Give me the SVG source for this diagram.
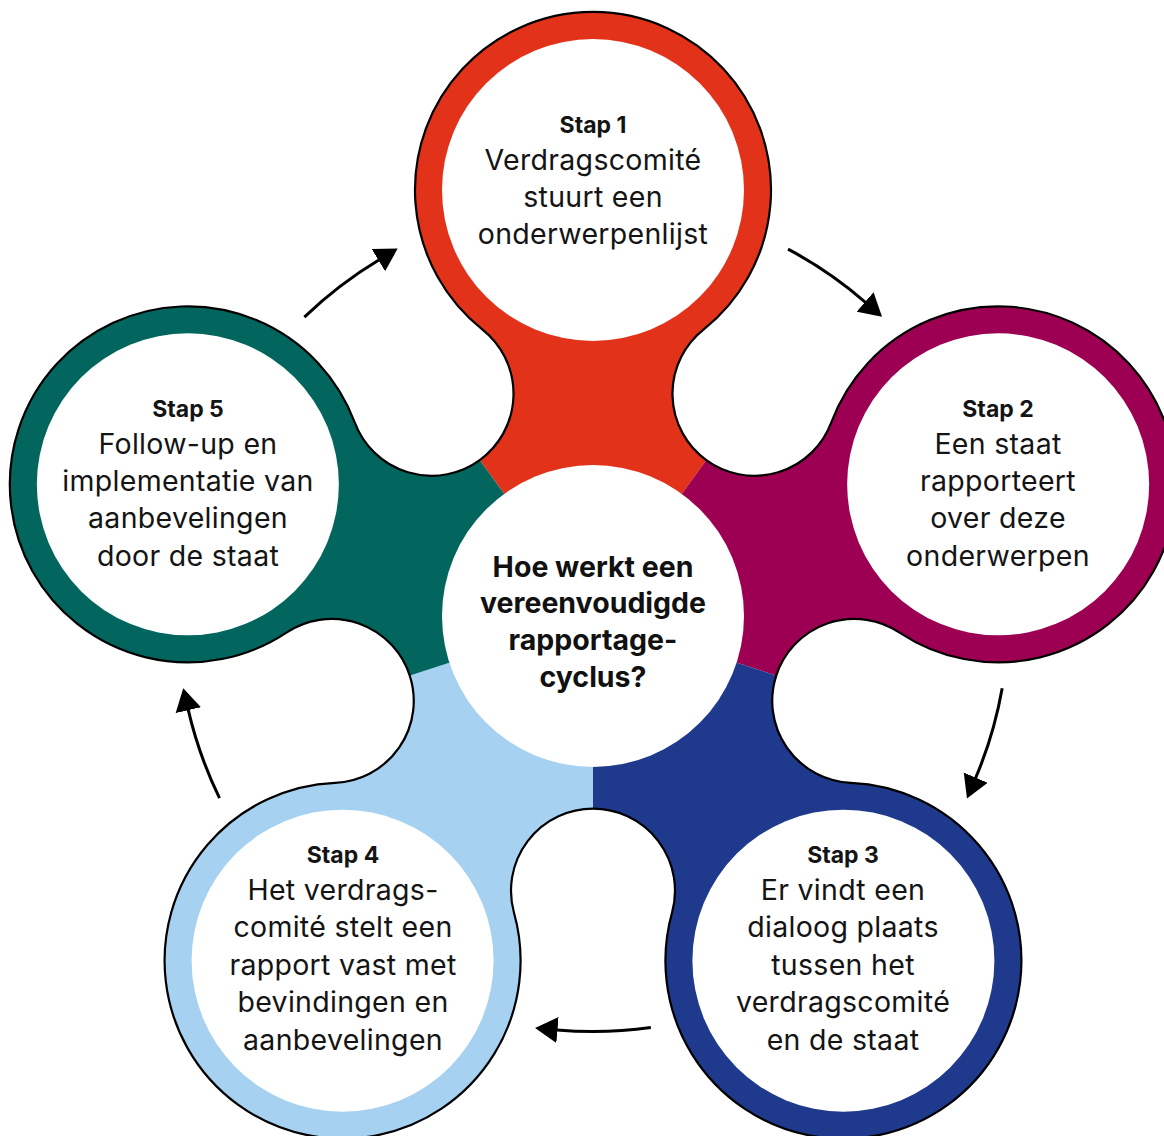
<svg xmlns="http://www.w3.org/2000/svg" width="1164" height="1136" viewBox="0 0 1164 1136">
  <defs>
    <style>
      .ttl { font-family: Inter, "Liberation Sans", sans-serif; font-weight: 700; font-size: 23px; fill: #141414; text-anchor: middle; }
      .txt { font-family: Inter, "Liberation Sans", sans-serif; font-weight: 400; font-size: 28.5px; fill: #141414; text-anchor: middle; letter-spacing: 0.3px; }
      .ctr { font-family: Inter, "Liberation Sans", sans-serif; font-weight: 700; font-size: 28.5px; fill: #111; text-anchor: middle; }
      .inner { fill: #ffffff; }
      .conn { fill: none; stroke: #000; stroke-width: 3; marker-end: url(#arrow); }
    </style>
    <path id="flowerPath" d="M 482.53 329.54 A 178 178 0 1 1 703.47 329.54 A 82 82 0 1 0 831.30 422.41 A 178 178 0 1 1 899.57 632.55 A 82 82 0 1 0 850.75 782.81 A 178 178 0 1 1 672.00 912.69 A 82 82 0 1 0 514.00 912.69 A 178 178 0 1 1 335.25 782.81 A 82 82 0 1 0 286.43 632.55 A 178 178 0 1 1 354.70 422.41 A 82 82 0 1 0 482.53 329.54 Z"/>
    <clipPath id="flowerClip">
      <use href="#flowerPath"/>
    </clipPath>
    <marker id="arrow" markerUnits="userSpaceOnUse" markerWidth="23" markerHeight="27" viewBox="0 0 23 27" refX="0.5" refY="13.5" orient="auto">
      <path d="M0,0.5 L22.5,13.5 L0,26.5 Z" fill="#000"/>
    </marker>
  </defs>

  <rect width="1164" height="1136" fill="#ffffff"/>

  <g id="flower">
    <g clip-path="url(#flowerClip)">
      <polygon points="593,616 -288.7,-597.5 1474.7,-597.5" fill="#E2321A"/>
      <polygon points="593,616 1474.7,-597.5 2019.6,1079.5" fill="#9D0052"/>
      <polygon points="593,616 2019.6,1079.5 593,2116" fill="#1F398C"/>
      <polygon points="593,616 593,2116 -833.6,1079.5" fill="#A6D1F0"/>
      <polygon points="593,616 -833.6,1079.5 -288.7,-597.5" fill="#02665F"/>
    </g>
    <use href="#flowerPath" fill="none" stroke="#000" stroke-width="2.2"/>
  </g>

  <g id="step1">
    <circle class="inner" cx="593" cy="190" r="151"/>
    <text class="ttl" x="593" y="133">Stap 1</text>
    <text class="txt" x="593" y="170">Verdragscomité</text>
    <text class="txt" x="593" y="207">stuurt een</text>
    <text class="txt" x="593" y="244">onderwerpenlijst</text>
  </g>

  <g id="step2">
    <circle class="inner" cx="998.15" cy="484.36" r="151"/>
    <text class="ttl" x="998" y="417">Stap 2</text>
    <text class="txt" x="998" y="454">Een staat</text>
    <text class="txt" x="998" y="491">rapporteert</text>
    <text class="txt" x="998" y="528">over deze</text>
    <text class="txt" x="998" y="566">onderwerpen</text>
  </g>

  <g id="step3">
    <circle class="inner" cx="843.4" cy="960.64" r="151"/>
    <text class="ttl" x="843" y="863">Stap 3</text>
    <text class="txt" x="843" y="900">Er vindt een</text>
    <text class="txt" x="843" y="937">dialoog plaats</text>
    <text class="txt" x="843" y="975">tussen het</text>
    <text class="txt" x="843" y="1012">verdragscomité</text>
    <text class="txt" x="843" y="1050">en de staat</text>
  </g>

  <g id="step4">
    <circle class="inner" cx="342.6" cy="960.64" r="151"/>
    <text class="ttl" x="343" y="863">Stap 4</text>
    <text class="txt" x="343" y="900">Het verdrags-</text>
    <text class="txt" x="343" y="937">comité stelt een</text>
    <text class="txt" x="343" y="975">rapport vast met</text>
    <text class="txt" x="343" y="1012">bevindingen en</text>
    <text class="txt" x="343" y="1050">aanbevelingen</text>
  </g>

  <g id="step5">
    <circle class="inner" cx="187.85" cy="484.36" r="151"/>
    <text class="ttl" x="188" y="417">Stap 5</text>
    <text class="txt" x="188" y="454">Follow-up en</text>
    <text class="txt" x="188" y="491">implementatie van</text>
    <text class="txt" x="188" y="528">aanbevelingen</text>
    <text class="txt" x="188" y="566">door de staat</text>
  </g>

  <g id="center">
    <circle class="inner" cx="593" cy="616" r="151"/>
    <text class="ctr" x="593" y="577">Hoe werkt een</text>
    <text class="ctr" x="593" y="613">vereenvoudigde</text>
    <text class="ctr" x="593" y="650">rapportage-</text>
    <text class="ctr" x="593" y="687">cyclus?</text>
  </g>

  <g id="connectors">
    <path class="conn" d="M 788.06 249.13 A 415.5 415.5 0 0 1 865.43 302.28"/>
    <path class="conn" d="M 1002.19 688.15 A 415.5 415.5 0 0 1 975.55 778.15"/>
    <path class="conn" d="M 650.83 1027.46 A 415.5 415.5 0 0 1 557.0 1029.94"/>
    <path class="conn" d="M 219.55 798.14 A 415.5 415.5 0 0 1 188.20 709.68"/>
    <path class="conn" d="M 304.37 317.11 A 415.5 415.5 0 0 1 378.81 259.96"/>
  </g>
</svg>
